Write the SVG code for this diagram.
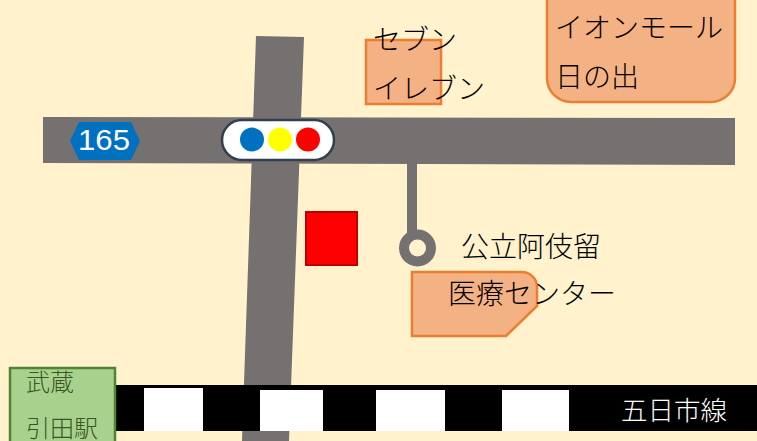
<svg xmlns="http://www.w3.org/2000/svg" width="757" height="441" viewBox="0 0 757 441">
<style>
.road{fill:#767171}
.shop{fill:#f4b183;stroke:#ed7d31;stroke-width:2.5}
.t{font-family:"Noto Sans CJK JP","Noto Sans",sans-serif;font-size:28px;font-weight:300;fill:#000}
.st{font-family:"Noto Sans CJK JP",sans-serif;font-size:24px;font-weight:300;fill:#385723}
.wh{fill:#fff}
</style>
<rect width="757" height="441" fill="#fff2cc"/>
<g id="roads">
<polygon class="road" points="256,36 304,37 289,441 242,441"/>
<polygon class="road" points="43,117 735,118 735,165 43,163"/>
<rect class="road" x="407" y="160" width="10" height="76"/>
<circle cx="417.500" cy="248" r="13.500" fill="#fff2cc" stroke="#767171" stroke-width="10"/>
</g>
<g id="seven">
<rect class="shop" x="366" y="40" width="75" height="64"/>
<text class="t" x="373" y="50">セブン</text>
<text class="t" x="373" y="99">イレブン</text>
</g>
<g id="aeon">
<path class="shop" d="M547,-2H735V78a24,24 0 0 1 -24,24H571a24,24 0 0 1 -24,-24Z"/>
<text class="t" x="555" y="38">イオンモール</text>
<text class="t" x="555" y="87">日の出</text>
</g>
<g id="route165">
<polygon points="79,122 131,122 140,141 131,160 79,160 70,141" fill="#0070c0"/>
<text x="78" y="150" textLength="52" lengthAdjust="spacingAndGlyphs" font-family="'Liberation Sans',sans-serif" font-size="29" fill="#fff">165</text>
</g>
<g id="signal">
<rect x="222" y="120" width="112" height="40" rx="20" fill="#fff" stroke="#323f4f" stroke-width="2.500"/>
<circle cx="252" cy="139.500" r="12" fill="#0070c0"/>
<circle cx="280" cy="139.500" r="12" fill="#ff0"/>
<circle cx="308" cy="139.500" r="12" fill="#f00"/>
</g>
<g id="marker">
<rect x="306" y="212" width="51" height="53" fill="#f00" stroke="#c00000" stroke-width="2"/>
</g>
<g id="clinic">
<path class="shop" d="M412,272H522a15,15 0 0 1 15,15V306L506,336H412Z"/>
<text class="t" x="461" y="257">公立阿伎留</text>
<text class="t" x="448" y="304">医療センター</text>
</g>
<g id="railway">
<rect x="115" y="385" width="642" height="46" fill="#000"/>
<rect class="wh" x="144" y="388" width="59" height="43"/>
<rect class="wh" x="260" y="390" width="63" height="41"/>
<rect class="wh" x="376" y="390" width="69" height="41"/>
<rect class="wh" x="502" y="390" width="67" height="41"/>
<text x="621" y="420" font-family="'Noto Sans CJK JP',sans-serif" font-size="26.500" font-weight="300" fill="#fff">五日市線</text>
</g>
<g id="station">
<rect x="10" y="368" width="105" height="80" fill="#a9d18e" stroke="#548235" stroke-width="2.500"/>
<text class="st" x="26" y="391">武蔵</text>
<text class="st" x="26" y="436.500">引田駅</text>
</g>
</svg>
